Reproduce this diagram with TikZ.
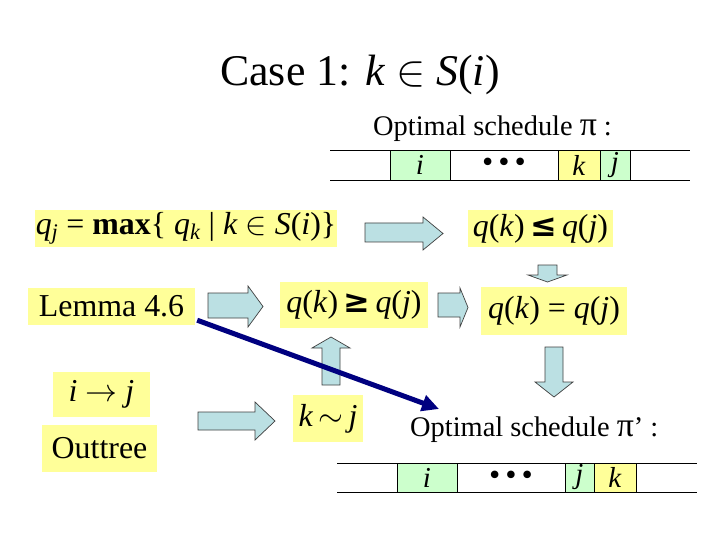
\documentclass[tikz,border=0pt]{standalone}
\usepackage{fix-cm}
\usepackage{fontspec}
\setmainfont{Liberation Serif}
\newfontfamily\dvs{DejaVu Sans}
\usetikzlibrary{arrows.meta}
\definecolor{boxyel}{RGB}{255,255,153}
\definecolor{cellgrn}{RGB}{204,255,204}
\definecolor{arrfill}{RGB}{187,224,227}
\definecolor{navyblue}{RGB}{0,0,128}
\tikzset{
  hbox/.style={fill=boxyel, inner sep=0pt, font=\fontsize{32}{38}\selectfont},
  cellbox/.style={draw=black, line width=0.8bp, inner sep=0pt, font=\fontsize{29}{33}\selectfont},
  barline/.style={draw=black, line width=0.9bp},
  blockarrow/.style={fill=arrfill, draw=black!75, line width=0.7bp, line join=miter},
  plaintext/.style={inner sep=0pt, anchor=west, font=\fontsize{28.5}{34}\selectfont},
  bigarrow/.style={draw=navyblue, line width=5bp, -{Triangle[length=17bp,width=16bp]}}
}
\newcommand\rblock[7]{\draw[blockarrow] (#1,#5) -- (#7,#5) -- (#7,#3) -- (#2,{(#3+#4)/2}) -- (#7,#4) -- (#7,#6) -- (#1,#6) -- cycle;}
\newcommand\dblock[7]{\draw[blockarrow] (#5,#3) -- (#5,#7) -- (#1,#7) -- ({(#1+#2)/2},#4) -- (#2,#7) -- (#6,#7) -- (#6,#3) -- cycle;}
\newcommand\qsym[1]{{\dvs\bfseries #1}}
\newcommand\bigpi{{\fontsize{34}{34}\selectfont π}}
\newcommand\tridots{{\dvs\fontsize{26}{30}\selectfont •\hspace{1bp}•\hspace{1bp}•}}
\begin{document}
\begin{tikzpicture}[x=1bp,y=-1bp]
\useasboundingbox (0,0) rectangle (720,540);
\fill[white] (0,0) rectangle (720,540);

% title
\node[inner sep=0pt, anchor=base, font=\fontsize{44}{50}\selectfont] (title) at (360,86)
  {Case 1: \textit{k} $\in$ \textit{S}(\textit{i})};

% schedule pi
\node[plaintext] (opt1) at (373,129) {Optimal schedule \bigpi\ :};
\coordinate (b1l1) at (330,150); \coordinate (b1r1) at (690,150);
\coordinate (b1l2) at (330,180); \coordinate (b1r2) at (690,180);
\draw[barline] (b1l1) -- (b1r1);
\draw[barline] (b1l2) -- (b1r2);
\node[cellbox, fill=cellgrn, minimum width=60bp, minimum height=30bp] (c1i) at (420,165) {\textit{i}};
\node[cellbox, fill=white, minimum width=108bp, minimum height=30bp] (c1d) at (504,165) {\tridots};
\node[cellbox, fill=boxyel, minimum width=42bp, minimum height=30bp] (c1k) at (579,165) {\textit{k}};
\node[cellbox, fill=cellgrn, minimum width=30bp, minimum height=30bp] (c1j) at (615,165) {\textit{j}};

% yellow boxes
\node[hbox, minimum width=302bp, minimum height=37bp] (qj) at (186,228.5)
  {\textit{q}\textsubscript{\textit{j}} = \textbf{max}\{ \textit{q}\textsubscript{\textit{k}} | \textit{k} $\in$ \textit{S}(\textit{i})\}};
\node[hbox, minimum width=145bp, minimum height=37bp] (qle) at (540.5,228.5)
  {\textit{q}(\textit{k})\,\qsym{≤}\,\textit{q}(\textit{j})};
\node[hbox, minimum width=167bp, minimum height=37bp] (lemma) at (111.5,306.5) {Lemma 4.6};
\node[hbox, minimum width=148bp, minimum height=46bp] (qge) at (354,305)
  {\textit{q}(\textit{k})\,\qsym{≥}\,\textit{q}(\textit{j})};
\node[hbox, minimum width=146bp, minimum height=48bp] (qeq) at (554,311)
  {\textit{q}(\textit{k}) = \textit{q}(\textit{j})};
\node[hbox, minimum width=97bp, minimum height=45bp] (itoj) at (101.5,394.5)
  {\textit{i} $\rightarrow$ \textit{j}};
\node[hbox, minimum width=115bp, minimum height=47bp] (outtree) at (99.5,448.5) {Outtree};
\node[hbox, minimum width=70bp, minimum height=47bp] (ksimj) at (328,418.5)
  {\textit{k}\,$\sim$\,\textit{j}};

% schedule pi'
\node[plaintext] (opt2) at (410,430) {Optimal schedule \bigpi’ :};
\coordinate (b2l1) at (337,463); \coordinate (b2r1) at (697,463);
\coordinate (b2l2) at (337,492); \coordinate (b2r2) at (697,492);
\draw[barline] (b2l1) -- (b2r1);
\draw[barline] (b2l2) -- (b2r2);
\node[cellbox, fill=cellgrn, minimum width=60bp, minimum height=29bp] (c2i) at (427,477.5) {\textit{i}};
\node[cellbox, fill=white, minimum width=108bp, minimum height=29bp] (c2d) at (511,477.5) {\tridots};
\node[cellbox, fill=cellgrn, minimum width=29bp, minimum height=29bp] (c2j) at (579.5,477.5) {\textit{j}};
\node[cellbox, fill=boxyel, minimum width=42bp, minimum height=29bp] (c2k) at (615,477.5) {\textit{k}};

% block arrows
\rblock{365}{443}{217}{250}{223}{242}{423}
\rblock{208}{263}{286}{327}{293}{318}{248}
\rblock{438}{468}{288}{327}{293}{317}{460}
\dblock{528}{567}{265}{282}{538}{557}{275}
\dblock{535}{573}{347}{397}{545}{563}{382}
\dblock{312}{350}{385}{337}{322}{340}{348}
\rblock{198}{275}{402}{440}{412}{430}{255}

% long navy arrow
\coordinate (bigend) at (439,409);
\draw[bigarrow] ([shift={(2,-5)}]lemma.south east) -- (bigend);
\end{tikzpicture}
\end{document}
